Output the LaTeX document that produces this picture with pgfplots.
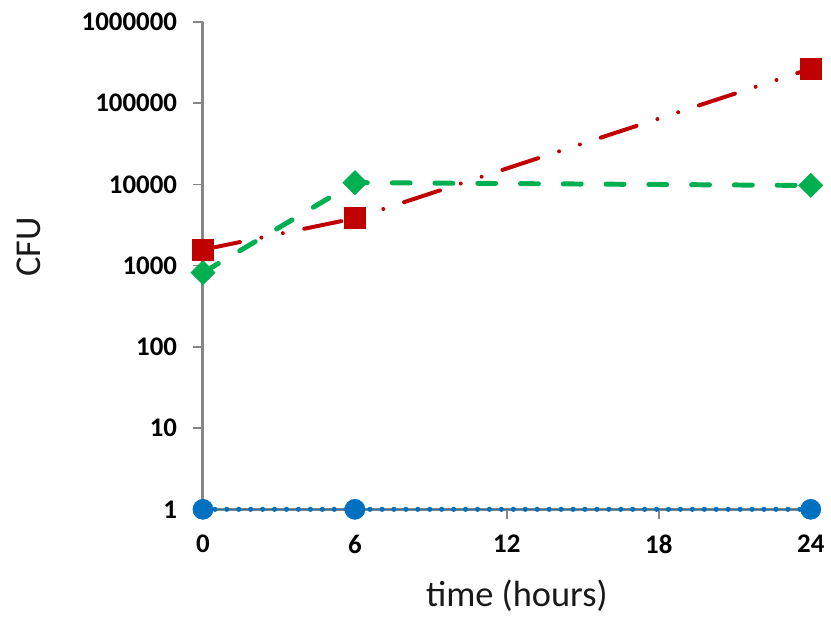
\documentclass[border=0pt]{standalone}
\usepackage{pgfplots}
\pgfplotsset{compat=1.18}
\usepackage{fontspec}
\setmainfont{Carlito}
\definecolor{cred}{HTML}{C00000}
\definecolor{cgreen}{HTML}{00B050}
\definecolor{cblue}{HTML}{0070C0}
\definecolor{axgray}{HTML}{868686}
\begin{document}
\begin{tikzpicture}
\begin{axis}[
  scale only axis,
  width=305.5pt, height=245pt,
  ymode=log,
  xmin=0, xmax=24, ymin=1, ymax=1000000,
  axis x line=bottom, axis y line=left,
  axis line style={-, axgray, line width=1.5pt},
  xtick={0,6,12,18,24}, xticklabels={0,6,12,18,24},
  ytick={1,10,100,1000,10000,100000,1000000},
  yticklabels={1,10,100,1000,10000,100000,1000000},
  minor ytick={}, yminorticks=false,
  xtick align=outside, ytick align=outside,
  major tick length=5pt,
  every tick/.style={axgray, line width=0.8pt},
  tick label style={font=\bfseries\fontsize{13.5}{14}\selectfont, text=black},
  yticklabel style={xshift=-4.5pt},
  xticklabel style={yshift=-4.5pt},
  xlabel={time (hours)},
  ylabel={CFU},
  label style={font=\fontsize{18.3}{20}\selectfont, text=black!90},
  xlabel style={at={(axis description cs:0.5,0)}, anchor=center, xshift=5pt, yshift=-43.5pt},
  ylabel style={at={(axis description cs:0,0.5)}, anchor=center, xshift=9.5pt, yshift=87.5pt},
  clip=false,
  after end axis/.code={
    \path ([xshift=-102pt,yshift=-52pt]rel axis cs:0,0) rectangle ([xshift=8pt,yshift=11pt]rel axis cs:1,1);
  },
]
\addplot[cblue!70!gray, line width=0.7pt, no markers, forget plot,
  postaction={draw, cblue, line width=2.6pt, line cap=round, dash pattern=on 0pt off 6pt}]
  coordinates {(0,1) (6,1) (24,1)};
\addplot[only marks, mark=*, mark size=5pt, mark options={fill=cblue, draw=cblue}]
  coordinates {(0,1) (6,1) (24,1)};
\addplot[cgreen, line width=2.5pt, line cap=round, dash pattern=on 9pt off 12.5pt,
  mark=square*, mark size=4.2pt, mark options={solid, rotate=45, fill=cgreen, draw=cgreen, line width=0.5pt}]
  coordinates {(0,820) (6,10500) (24,9700)};
\addplot[cred, line width=2pt, line cap=round, dash pattern=on 19pt off 11pt on 0pt off 11pt on 0pt off 11pt,
  mark=square*, mark size=5.3pt, mark options={solid, fill=cred, draw=cred, line width=0.5pt}]
  coordinates {(0,1570) (6,3820) (24,265000)};
\end{axis}
\end{tikzpicture}
\end{document}
